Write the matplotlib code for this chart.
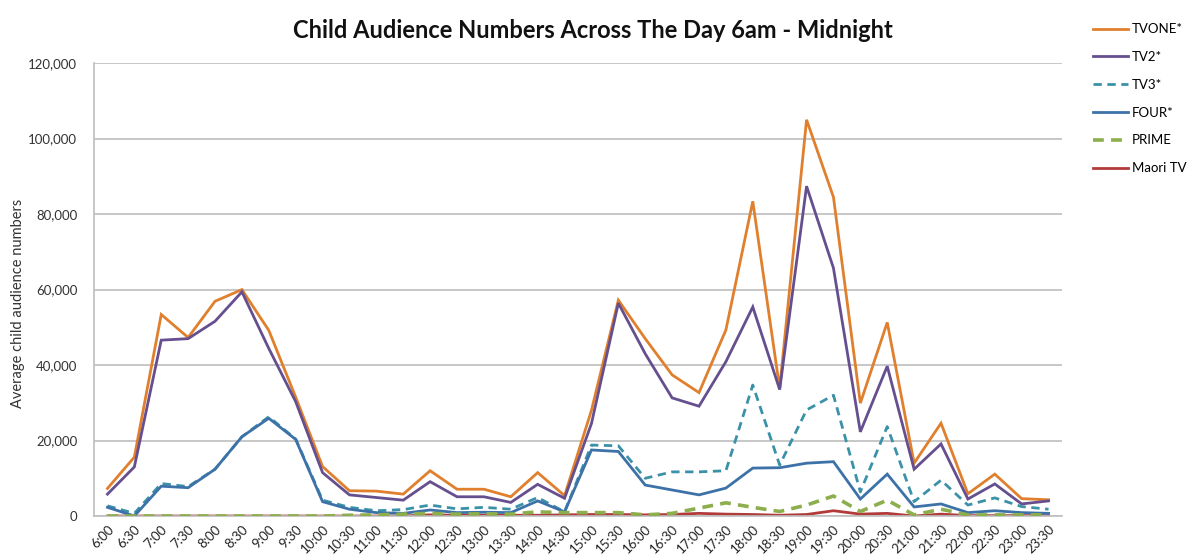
import numpy as np
import matplotlib
matplotlib.use("Agg")
import matplotlib.pyplot as plt
from matplotlib.ticker import FuncFormatter

plt.rcParams["font.family"] = ["Lato", "DejaVu Sans"]

times = ["6:00", "6:30", "7:00", "7:30", "8:00", "8:30", "9:00", "9:30",
         "10:00", "10:30", "11:00", "11:30", "12:00", "12:30", "13:00", "13:30",
         "14:00", "14:30", "15:00", "15:30", "16:00", "16:30", "17:00", "17:30",
         "18:00", "18:30", "19:00", "19:30", "20:00", "20:30", "21:00", "21:30",
         "22:00", "22:30", "23:00", "23:30"]

tvone = [7300, 15600, 53400, 47300, 56900, 60000, 49200, 31500,
         13100, 6700, 6600, 5800, 12000, 7100, 7100, 5100,
         11500, 5400, 28000, 57200, 47000, 37400, 32700, 49300,
         83400, 33800, 105000, 84500, 29900, 51300, 14000, 24600,
         5900, 11100, 4600, 4300]
tv2 = [5800, 13000, 46600, 47000, 51600, 59400, 44400, 30300,
       11500, 5600, 4900, 4200, 9100, 5100, 5100, 3600,
       8400, 4700, 24500, 56400, 43000, 31300, 29100, 40900,
       55400, 33500, 87400, 65700, 22300, 39700, 12400, 19100,
       4500, 8500, 3200, 4000]
tv3 = [2700, 700, 8600, 7800, 12400, 21000, 26300, 20400,
       4200, 2300, 1400, 1700, 2900, 1900, 2300, 1800,
       4900, 1100, 18800, 18600, 10000, 11700, 11700, 12000,
       34700, 13500, 28100, 32000, 6400, 23700, 3800, 9500,
       2900, 4800, 2500, 1800]
four = [2300, 0, 7900, 7500, 12400, 21000, 25900, 20300,
        3800, 1800, 900, 700, 1600, 900, 1000, 900,
        4000, 1100, 17500, 17100, 8200, 6900, 5600, 7400,
        12700, 12800, 14000, 14400, 4500, 11100, 2400, 3200,
        900, 1400, 900, 700]
prime = [0, 0, 0, 0, 0, 0, 0, 0,
         0, 200, 300, 500, 700, 500, 600, 500,
         1100, 900, 900, 900, 300, 700, 2100, 3500,
         2300, 1200, 2900, 5300, 1200, 4200, 300, 1800,
         300, 300, 300, 300]
maori = [0, 0, 0, 0, 0, 0, 0, 0,
         0, 0, 0, 0, 300, 200, 200, 200,
         200, 300, 400, 400, 300, 400, 700, 500,
         400, 200, 400, 1400, 500, 700, 0, 500,
         100, 100, 100, 100]

# name, values, colour, dash style, zorder
series = [
    ("TVONE*", tvone, "#E0802E", "-", 3),
    ("TV2*", tv2, "#654F8F", "-", 3),
    ("TV3*", tv3, "#3B92A8", (0, (3, 2)), 3),
    ("FOUR*", four, "#3D72A8", "-", 3),
    ("PRIME", prime, "#8CAE4C", (0, (3, 2)), 4),
    ("Maori TV", maori, "#B23A3A", "-", 2.5),
]

fig = plt.figure(figsize=(11.87, 5.59), dpi=100)
ax = fig.add_axes([0.0792, 0.0769, 0.8155, 0.8101])

x = np.arange(len(times))
handles = []
for name, vals, color, ls, z in series:
    lw = 2.6 if name == "PRIME" else 2.0
    h, = ax.plot(x, vals, color=color, linestyle=ls, linewidth=lw, label=name,
                 solid_joinstyle="miter", zorder=z)
    handles.append(h)

ax.set_xlim(-0.5, len(times) - 0.5)
ax.set_ylim(0, 120000)
ax.set_yticks(np.arange(0, 120001, 20000))
ax.yaxis.set_major_formatter(FuncFormatter(lambda v, p: f"{int(v):,}"))
ax.set_xticks(x)
ax.set_xticklabels(times, rotation=45, ha="right", rotation_mode="anchor",
                   fontsize=9.5, color="#222222")
ax.tick_params(axis="y", labelsize=9.5, colors="#333333", length=0, pad=12)
ax.tick_params(axis="x", length=0, pad=5)
ax.grid(axis="y", color="#BEBEBE", linewidth=1.2)
ax.set_axisbelow(True)
for s in ["top", "right"]:
    ax.spines[s].set_visible(False)
for s in ["left", "bottom"]:
    ax.spines[s].set_color("#BEBEBE")
    ax.spines[s].set_linewidth(1.2)

fig.text(18 / 1187, 1 - 303 / 559, "Average child audience numbers",
         rotation=90, ha="center", va="center", fontsize=10.5, color="#333333")
fig.text(0.4995, 0.946, "Child Audience Numbers Across The Day 6am - Midnight",
         ha="center", va="center", fontsize=17, fontweight="bold", color="#111111")

fig.legend(handles=handles, loc="upper left", bbox_to_anchor=(0.916, 0.968),
           frameon=False, fontsize=9.5, handlelength=2.7, handletextpad=0.3,
           labelspacing=1.2, borderaxespad=0)

fig.savefig("out.png", dpi=100, facecolor="white")
